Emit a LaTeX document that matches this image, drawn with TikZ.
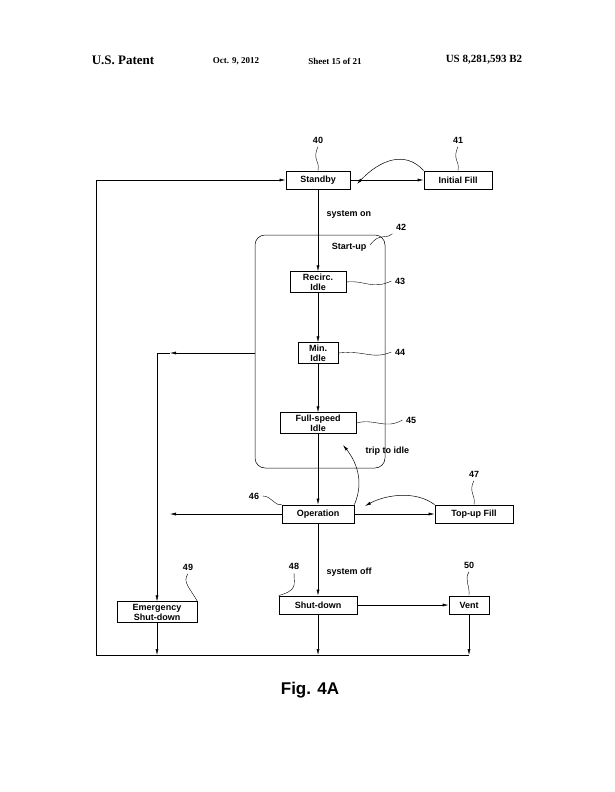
\documentclass[tikz,border=0pt]{standalone}
\usepackage{fontspec}
\setmainfont{Liberation Serif}
\newfontfamily\drawfont{Liberation Sans}
\usetikzlibrary{arrows.meta}
\tikzset{
  box/.style={draw,thick,fill=white,font=\drawfont\bfseries\fontsize{9}{10}\selectfont,align=center,inner sep=2pt,minimum height=18pt},
  lbl/.style={font=\drawfont\bfseries\fontsize{9}{10}\selectfont},
  flow/.style={-{Latex[length=6pt,width=3pt]}},
  lead/.style={thin}
}
\begin{document}
\begin{tikzpicture}[x=1pt,y=-1pt,line width=0.5pt]
  \useasboundingbox (0,0) rectangle (614,792);
  % Header
  \node[font=\bfseries\fontsize{13}{14}\selectfont] at (123,60) {U.S. Patent};
  \node[font=\bfseries\fontsize{9}{10}\selectfont] at (236,61) {Oct. 9, 2012};
  \node[font=\bfseries\fontsize{9}{10}\selectfont] at (335,61) {Sheet 15 of 21};
  \node[font=\bfseries\fontsize{11}{12}\selectfont] at (484,60) {US 8,281,593 B2};

  % Start-up group
  \draw[rounded corners=10pt] (255,235) rectangle (385,468);

  % Boxes
  \node[box,minimum width=64pt] (standby) at (318,180) {Standby};
  \node[box,minimum width=68pt] (fill) at (458,180) {Initial Fill};
  \node[box,minimum width=56pt] (recirc) at (318,282) {Recirc.\\Idle};
  \node[box,minimum width=40pt] (min) at (318,353) {Min.\\Idle};
  \node[box,minimum width=76pt] (full) at (318,423) {Full-speed\\Idle};
  \node[box,minimum width=72pt] (oper) at (318,514) {Operation};
  \node[box,minimum width=78pt] (topup) at (474,514) {Top-up Fill};
  \node[box,minimum width=78pt] (shut) at (318,605) {Shut-down};
  \node[box,minimum width=40pt] (vent) at (469,605) {Vent};
  \node[box,minimum width=80pt] (emerg) at (157,612) {Emergency\\Shut-down};

  % Coordinates
  \coordinate (bl) at (96,655);
  \coordinate (tl) at (96,180);
  \coordinate (jn) at (157,353);
  \coordinate (jo) at (157,514);
  \coordinate (be) at (157,655);
  \coordinate (bs) at (318,655);
  \coordinate (bv) at (469,655);
  \coordinate (gl) at (255,353);

  % Main flow
  \draw[flow] (standby) -- (fill);
  \draw[flow] (standby) -- (recirc);
  \draw[flow] (recirc) -- (min);
  \draw[flow] (min) -- (full);
  \draw[flow] (full) -- (oper);
  \draw[flow] (oper) -- (topup);
  \draw[flow] (oper) -- (shut);
  \draw[flow] (shut) -- (vent);
  \draw[flow] (gl) -- (170,353);
  \draw (170,353) -- (jn) -- (jo);
  \draw[flow] (oper) -- (170,514);
  \draw[flow] (jo) -- (emerg);
  \draw[flow] (emerg) -- (be);
  \draw[flow] (shut) -- (bs);
  \draw[flow] (vent) -- (bv);
  \draw (bv) -- (bl) -- (tl);
  \draw[flow] (tl) -- (standby);

  % Return curves
  \draw[flow] (fill.north west) .. controls (405,150) and (380,160) .. (357,184);
  \draw[flow] (topup.north west) .. controls (415,490) and (385,495) .. (365,506);
  \draw[flow] (oper.north east) .. controls (365,480) and (355,460) .. (343,445);

  % Texts
  \node[lbl,anchor=west] at (323,214) {system on};
  \node[lbl] at (349,247) {Start-up};
  \node[lbl,anchor=west] at (362,451) {trip to idle};
  \node[lbl,anchor=west] at (323,572) {system off};
  \node[font=\drawfont\bfseries\fontsize{17}{18}\selectfont] at (310,690) {Fig. 4A};

  % Reference numerals
  \node[lbl] (n40) at (318,140) {40};
  \node[lbl] (n41) at (458,140) {41};
  \node[lbl] (n42) at (401,227) {42};
  \node[lbl] (n43) at (400,281) {43};
  \node[lbl] (n44) at (400,352) {44};
  \node[lbl] (n45) at (411,420) {45};
  \node[lbl] (n46) at (254,496) {46};
  \node[lbl] (n47) at (474,474) {47};
  \node[lbl] (n48) at (294,566) {48};
  \node[lbl] (n49) at (188,567) {49};
  \node[lbl] (n50) at (469,565) {50};

  % Leaders
  \draw[lead] (n40.south) .. controls (312,160) and (320,160) .. (standby.north);
  \draw[lead] (n41.south) .. controls (452,160) and (460,160) .. (fill.north);
  \draw[lead] (n42.south west) .. controls (385,240) and (380,232) .. (370,245);
  \draw[lead] (n43.west) .. controls (372,290) and (365,280) .. (recirc.east);
  \draw[lead] (n44.west) .. controls (372,360) and (365,350) .. (min.east);
  \draw[lead] (n45.west) .. controls (385,430) and (375,418) .. (full.east);
  \draw[lead] (n46.east) .. controls (272,496) and (274,506) .. (oper.north west);
  \draw[lead] (n47.south) .. controls (468,492) and (476,495) .. (topup.north);
  \draw[lead] (n48.south) .. controls (294,585) and (298,590) .. (shut.north west);
  \draw[lead] (n49.south) .. controls (182,582) and (190,588) .. (emerg.north east);
  \draw[lead] (n50.south) .. controls (464,580) and (470,585) .. (vent.north);
\end{tikzpicture}
\end{document}
